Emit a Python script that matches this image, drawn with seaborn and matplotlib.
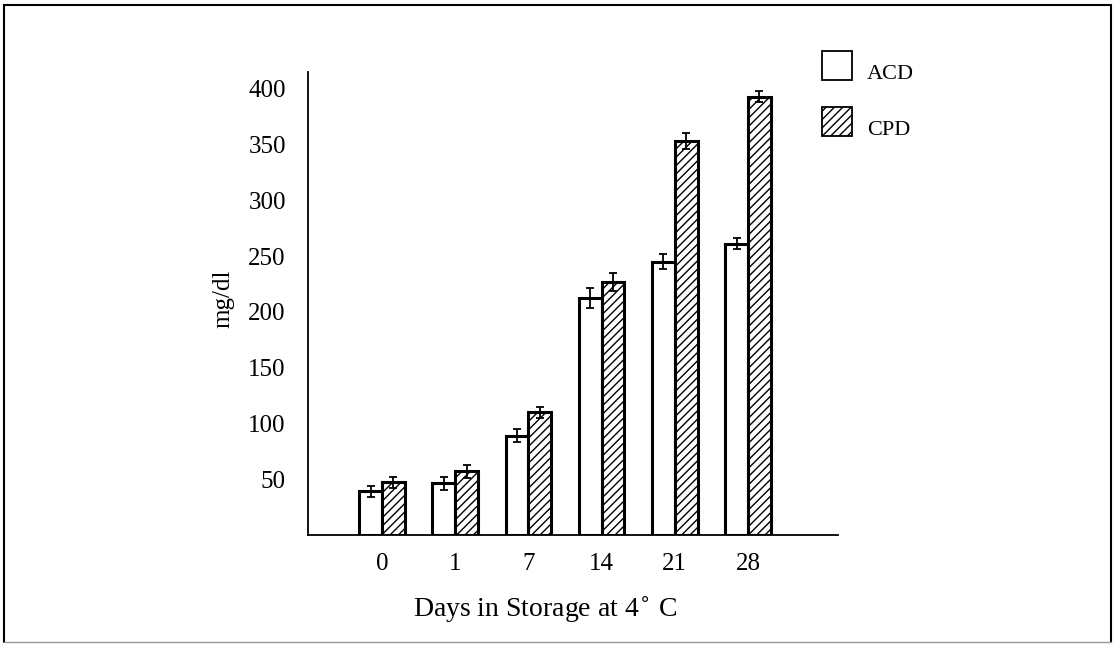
import numpy as np
import pandas as pd
import matplotlib
matplotlib.use("Agg")
import matplotlib.pyplot as plt
from matplotlib.lines import Line2D
from matplotlib.patches import Rectangle
import seaborn as sns

# data
days = ["0", "1", "7", "14", "21", "28"]
acd = [39, 46, 89, 212, 245, 261]
cpd = [47, 57, 110, 227, 353, 393]
acd_err = [5, 6, 6, 9, 7, 5]
cpd_err = [5, 6, 5, 8, 7, 5]
groups = ["ACD", "CPD"]
hatches = ["", "////"]

df = pd.DataFrame({
    "day": days * 2,
    "value": acd + cpd,
    "group": [groups[0]] * len(days) + [groups[1]] * len(days),
})

sns.set_style("white")
plt.rcParams["font.family"] = ["Liberation Serif", "DejaVu Serif"]
plt.rcParams["hatch.linewidth"] = 1.0
plt.rcParams["text.color"] = "black"
plt.rcParams["axes.labelcolor"] = "black"
plt.rcParams["xtick.color"] = "black"
plt.rcParams["ytick.color"] = "black"

W, H = 1116, 649
fig = plt.figure(figsize=(W / 100, H / 100), dpi=100)
ax = fig.add_axes([0.276, 0.176, 0.475, 0.713])

sns.barplot(data=df, x="day", y="value", hue="group", order=days,
            hue_order=groups, palette=["white", "white"], width=0.62,
            edgecolor="black", linewidth=2.2, errorbar=None, legend=False, ax=ax)

for cont, hatch in zip(ax.containers, hatches):
    for bar in cont:
        bar.set_hatch(hatch)

# error bars
errs = [acd_err, cpd_err]
for cont, err in zip(ax.containers, errs):
    xs = [b.get_x() + b.get_width() / 2 for b in cont]
    ys = [b.get_height() for b in cont]
    ax.errorbar(xs, ys, yerr=err, fmt="none", ecolor="black",
                elinewidth=1.3, capsize=3, capthick=1.3, zorder=5)

ax.set_xlim(-1.01, 6.23)
ax.set_ylim(0, 415)
ax.set_yticks(np.arange(50, 401, 50))
ax.tick_params(axis="y", direction="in", length=7, width=1.2, labelsize=18, pad=16)
ax.tick_params(axis="x", length=0, labelsize=18, pad=13)
for s in ["top", "right"]:
    ax.spines[s].set_visible(False)
for s in ["left", "bottom"]:
    ax.spines[s].set_linewidth(1.3)
    ax.spines[s].set_color("black")

ax.set_xlabel("Days in Storage at 4$^{\\circ}$ C", fontsize=20)
ax.xaxis.set_label_coords(0.447, -0.129)
ax.set_ylabel("mg/dl", fontsize=18)
ax.yaxis.set_label_coords(-0.138, 0.51)

# legend: key squares with the label baseline at the square's bottom
for i, (name, hatch) in enumerate(zip(groups, hatches)):
    top = 51 + i * 56
    fig.add_artist(Rectangle((822 / W, 1 - (top + 29) / H), 30 / W, 29 / H,
                             transform=fig.transFigure, facecolor="white",
                             edgecolor="black", linewidth=1.3, hatch=hatch))
    fig.text(867 / W, 1 - (top + 28) / H, name, fontsize=16,
             ha="left", va="baseline")

# outer frame of the figure
frame = [((4, 1111), (5, 5), "black", 1.5),
         ((4, 4), (5, 642), "black", 1.5),
         ((1111, 1111), (5, 642), "black", 1.5),
         ((4, 1111), (642, 642), "0.6", 1.0)]
for xs, ys, col, lw in frame:
    fig.add_artist(Line2D([x / W for x in xs], [1 - y / H for y in ys],
                          transform=fig.transFigure, color=col, linewidth=lw))

fig.savefig("out.png", dpi=100)
